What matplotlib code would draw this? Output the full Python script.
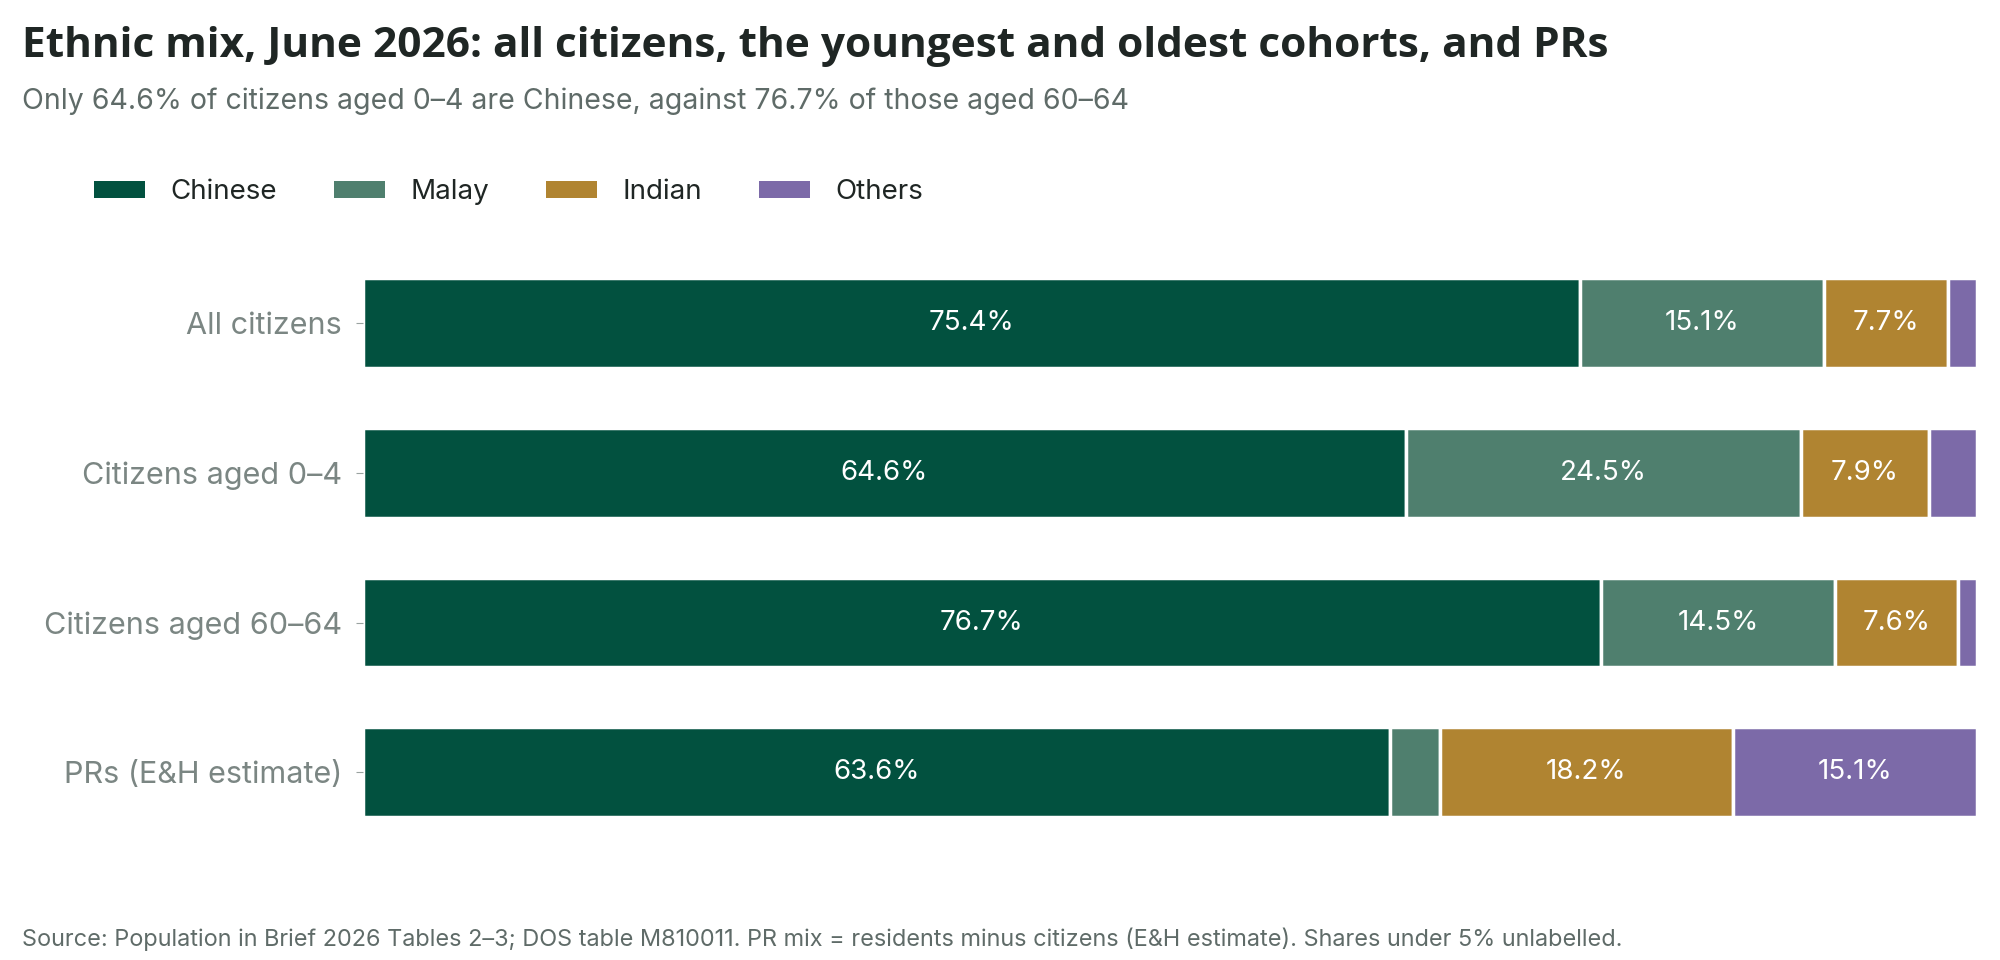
import matplotlib
matplotlib.use("Agg")
import matplotlib.pyplot as plt
from matplotlib.patches import Patch

# data
groups = ["All citizens", "Citizens aged 0\u20134", "Citizens aged 60\u201364", "PRs (E&H estimate)"]
ethnic = ["Chinese", "Malay", "Indian", "Others"]
chinese = [75.4, 64.6, 76.7, 63.6]
malay = [15.1, 24.5, 14.5, 3.1]
indian = [7.7, 7.9, 7.6, 18.2]
others = [1.8, 3.0, 1.2, 15.1]

colors = ["#02513f", "#4f7f6e", "#b08431", "#7c6aa8"]

plt.rcParams['font.family'] = ['Inter', 'DejaVu Sans']

fig = plt.figure(figsize=(20, 9.6), dpi=100)
ax = fig.add_axes([0.1815, 0.102, 0.807, 0.655])

series = [chinese, malay, indian, others]
ypos = list(range(len(groups)))
left = [0.0] * len(groups)
for name, vals, col in zip(ethnic, series, colors):
    bars = ax.barh(ypos, vals, left=left, height=0.6, color=col,
                   edgecolor="white", linewidth=2.5, label=name)
    for y, v, l in zip(ypos, vals, left):
        if v >= 5:
            ax.text(l + v / 2, y, f"{v:.1f}%", ha="center", va="center",
                    color="white", fontsize=20)
    left = [a + b for a, b in zip(left, vals)]

ax.set_xlim(0, 100)
ax.set_ylim(3.6, -0.6)
ax.set_yticks(ypos)
ax.set_yticklabels(groups, fontsize=22, color="#7b8683")
ax.tick_params(axis="y", length=5, color="#9aa3a0", pad=10)
ax.set_xticks([])
for s in ax.spines.values():
    s.set_visible(False)

handles = [Patch(facecolor=c, label=n) for n, c in zip(ethnic, colors)]
fig.legend(handles=handles, loc="center left", bbox_to_anchor=(0.047, 0.80),
           ncol=4, frameon=False, fontsize=20, handlelength=1.85, handleheight=0.55,
           columnspacing=2.05, handletextpad=0.9, labelcolor="#1f2624",
           borderaxespad=0, borderpad=0)

fig.text(0.011, 0.952, "Ethnic mix, June 2026: all citizens, the youngest and oldest cohorts, and PRs",
         fontsize=30.5, fontweight="bold", color="#1f2624", va="center",
         family=["Open Sans", "DejaVu Sans"])
fig.text(0.011, 0.895, "Only 64.6% of citizens aged 0\u20134 are Chinese, against 76.7% of those aged 60\u201364",
         fontsize=20.5, color="#5f6b68", va="center")
fig.text(0.011, 0.022, "Source: Population in Brief 2026 Tables 2\u20133; DOS table M810011. PR mix = residents minus citizens (E&H estimate). Shares under 5% unlabelled.",
         fontsize=16.9, color="#5f6b68", va="center")

fig.savefig("out.png", dpi=100, facecolor="white")
